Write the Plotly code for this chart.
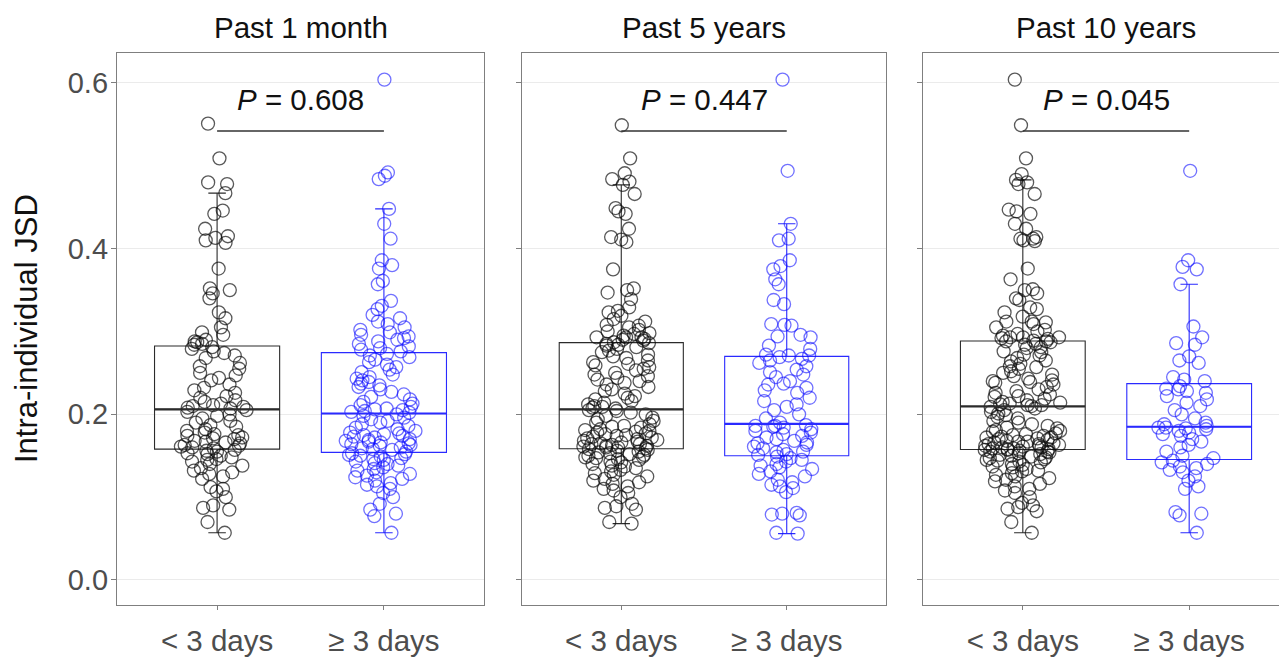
import numpy as np
import plotly.graph_objects as go
from plotly.subplots import make_subplots

panels = ["Past 1 month", "Past 5 years", "Past 10 years"]
groups = ["< 3 days", "≥ 3 days"]
p_values = ["0.608", "0.447", "0.045"]
sig_bar_y = 0.542
p_text_y = 0.580
y_ticks = [0.0, 0.2, 0.4, 0.6]
y_ticktext = ["0.0", "0.2", "0.4", "0.6"]

# ---- Past 1 month ----
p1_lt = [0.551, 0.509, 0.480, 0.478, 0.467, 0.446, 0.442, 0.424, 0.415, 0.413, 0.410, 0.407, 0.376, 0.352,
         0.350, 0.346, 0.340, 0.323, 0.316, 0.305, 0.299, 0.296, 0.290, 0.288, 0.287, 0.285, 0.284,
         0.281, 0.279, 0.276, 0.274, 0.271, 0.268, 0.262, 0.258, 0.255, 0.250, 0.247, 0.244, 0.241, 0.236,
         0.232, 0.229, 0.226, 0.222, 0.220, 0.217, 0.215, 0.213, 0.211, 0.210, 0.209, 0.208, 0.207,
         0.205, 0.203, 0.200, 0.198, 0.195, 0.192, 0.190, 0.187, 0.185, 0.182, 0.180, 0.178, 0.176, 0.175,
         0.174, 0.172, 0.171, 0.170, 0.168, 0.167, 0.166, 0.165, 0.163, 0.162, 0.161, 0.160, 0.159,
         0.157, 0.156, 0.155, 0.153, 0.152, 0.150, 0.148, 0.146, 0.145, 0.143, 0.140, 0.138, 0.135, 0.132,
         0.130, 0.128, 0.125, 0.122, 0.112, 0.110, 0.107, 0.100, 0.090, 0.087, 0.085, 0.070, 0.057]
p1_ge = [0.604, 0.492, 0.488, 0.484, 0.448, 0.430, 0.412, 0.386, 0.380, 0.376, 0.361, 0.357, 0.337, 0.331,
         0.327, 0.320, 0.316, 0.312, 0.309, 0.305, 0.302, 0.299, 0.296, 0.294, 0.292, 0.290, 0.288, 0.285,
         0.282, 0.280, 0.278, 0.276,
         0.273, 0.271, 0.269, 0.266, 0.263, 0.260, 0.257, 0.254, 0.251, 0.248, 0.245, 0.243, 0.241, 0.239,
         0.237, 0.235, 0.233, 0.230, 0.227, 0.224, 0.221, 0.218, 0.215, 0.213, 0.211, 0.209, 0.207, 0.206,
         0.205, 0.204, 0.203, 0.202,
         0.200, 0.198, 0.196, 0.194, 0.192, 0.190, 0.188, 0.186, 0.184, 0.182, 0.180, 0.178, 0.177, 0.176,
         0.175, 0.174, 0.173, 0.172, 0.170, 0.169, 0.168, 0.167, 0.166, 0.165, 0.164, 0.163, 0.162, 0.160,
         0.159, 0.158, 0.157, 0.155,
         0.153, 0.152, 0.151, 0.150, 0.149, 0.147, 0.146, 0.145, 0.143, 0.141, 0.140, 0.138, 0.136, 0.134,
         0.132, 0.130, 0.128, 0.126, 0.124, 0.122, 0.120, 0.117, 0.115, 0.113, 0.110, 0.105, 0.100, 0.092,
         0.085, 0.080, 0.077, 0.057]

# ---- Past 5 years ----
p2_lt = [0.549, 0.509, 0.491, 0.484, 0.481, 0.477, 0.466, 0.449, 0.445, 0.442, 0.424, 0.414, 0.411, 0.408,
         0.375, 0.352, 0.350, 0.347, 0.339, 0.329, 0.325, 0.323, 0.319, 0.315, 0.312, 0.308, 0.307, 0.305,
         0.302, 0.300, 0.298, 0.297, 0.295, 0.293, 0.293, 0.293, 0.291, 0.290, 0.289, 0.287,
         0.286, 0.285, 0.284, 0.283, 0.281, 0.279, 0.277, 0.275, 0.272, 0.270, 0.268, 0.265, 0.263, 0.261,
         0.259, 0.257, 0.255, 0.253, 0.250, 0.248, 0.246, 0.244, 0.242, 0.240, 0.238, 0.236, 0.233, 0.230,
         0.228, 0.225, 0.222, 0.220, 0.218, 0.216, 0.214, 0.212, 0.210, 0.209, 0.208, 0.207,
         0.205, 0.204, 0.202, 0.200, 0.198, 0.196, 0.194, 0.192, 0.190, 0.188, 0.186, 0.185, 0.184, 0.182,
         0.181, 0.180, 0.179, 0.178, 0.177, 0.176, 0.175, 0.174, 0.173, 0.172, 0.171, 0.170, 0.169, 0.168,
         0.167, 0.166, 0.165, 0.164, 0.164, 0.163, 0.162, 0.162, 0.161, 0.160, 0.160, 0.159,
         0.158, 0.157, 0.156, 0.155, 0.154, 0.153, 0.152, 0.151, 0.150, 0.149, 0.148, 0.147, 0.146, 0.145,
         0.143, 0.142, 0.140, 0.138, 0.137, 0.135, 0.133, 0.131, 0.129, 0.127, 0.125, 0.122, 0.120, 0.118,
         0.116, 0.113, 0.110, 0.108, 0.105, 0.100, 0.092, 0.089, 0.087, 0.085, 0.070, 0.068]
p2_ge = [0.604, 0.494, 0.430, 0.412, 0.410, 0.386, 0.379, 0.375, 0.363, 0.357, 0.338, 0.333, 0.309, 0.308,
         0.307, 0.296, 0.294, 0.293, 0.283, 0.279, 0.272, 0.271, 0.271,
         0.269, 0.267, 0.265, 0.262, 0.258, 0.254, 0.251, 0.248, 0.245, 0.240, 0.237, 0.236, 0.232, 0.229,
         0.226, 0.220, 0.216, 0.212, 0.209, 0.205, 0.200, 0.195, 0.190,
         0.187, 0.186, 0.186, 0.185, 0.184, 0.182, 0.180, 0.178, 0.176, 0.174, 0.172, 0.170, 0.168, 0.166,
         0.165, 0.163, 0.161, 0.159, 0.157, 0.155, 0.154, 0.152, 0.151,
         0.149, 0.147, 0.145, 0.143, 0.140, 0.138, 0.136, 0.134, 0.131, 0.128, 0.125, 0.121, 0.118, 0.115,
         0.113, 0.111, 0.106, 0.081, 0.080, 0.079, 0.078, 0.057, 0.056]

# ---- Past 10 years ----
p3_lt = [0.604, 0.549, 0.509, 0.490, 0.483, 0.480, 0.478, 0.466, 0.447, 0.445, 0.442, 0.430, 0.424, 0.414,
         0.412, 0.412, 0.410, 0.409, 0.376, 0.363, 0.351, 0.350, 0.346, 0.340, 0.338, 0.329, 0.327, 0.323,
         0.318, 0.312, 0.312, 0.311, 0.309, 0.305, 0.302, 0.300, 0.297, 0.295, 0.293, 0.293, 0.293, 0.292,
         0.291, 0.288,
         0.289, 0.288, 0.287, 0.285, 0.284, 0.281, 0.280, 0.276, 0.275, 0.272, 0.271, 0.268, 0.265, 0.264,
         0.261, 0.258, 0.257, 0.255, 0.252, 0.250, 0.248, 0.246, 0.243, 0.241, 0.240, 0.239, 0.238, 0.236,
         0.233, 0.230, 0.228, 0.226, 0.224, 0.222, 0.221, 0.219, 0.217, 0.215, 0.214, 0.213, 0.212, 0.211,
         0.211, 0.210,
         0.209, 0.207, 0.205, 0.203, 0.201, 0.199, 0.197, 0.195, 0.192, 0.190, 0.188, 0.186, 0.184, 0.183,
         0.181, 0.180, 0.179, 0.177, 0.176, 0.175, 0.174, 0.173, 0.172, 0.172, 0.171, 0.170, 0.169, 0.168,
         0.167, 0.167, 0.166, 0.165, 0.164, 0.164, 0.163, 0.162, 0.162, 0.161, 0.160, 0.160, 0.159, 0.159,
         0.158, 0.158,
         0.157, 0.157, 0.156, 0.155, 0.155, 0.154, 0.153, 0.152, 0.151, 0.150, 0.149, 0.148, 0.147, 0.146,
         0.145, 0.144, 0.143, 0.142, 0.140, 0.139, 0.137, 0.136, 0.134, 0.132, 0.131, 0.129, 0.127, 0.125,
         0.123, 0.121, 0.119, 0.116, 0.113, 0.110, 0.108, 0.105, 0.100, 0.093, 0.090, 0.088, 0.086, 0.083,
         0.070, 0.057]
p3_ge = [0.494, 0.386, 0.378, 0.375, 0.357, 0.306, 0.293, 0.286, 0.284, 0.270, 0.265, 0.262, 0.245, 0.242,
         0.240,
         0.234, 0.231, 0.230, 0.228, 0.226, 0.222, 0.218, 0.214, 0.210, 0.205, 0.200, 0.195, 0.190, 0.188,
         0.186,
         0.184, 0.184, 0.183, 0.182, 0.180, 0.178, 0.176, 0.174, 0.170, 0.167, 0.163, 0.160, 0.155, 0.150,
         0.147,
         0.144, 0.142, 0.140, 0.137, 0.135, 0.133, 0.130, 0.125, 0.120, 0.113, 0.110, 0.082, 0.080, 0.078,
         0.057]

data = [(p1_lt, p1_ge), (p2_lt, p2_ge), (p3_lt, p3_ge)]

# ---- styling ----
FONT = "Liberation Sans, Arial, sans-serif"
W, H = 1279, 657
ML, MT, MB = 117, 53, 52
box_colors = ["#2b2b2b", "#2a2aff"]
pt_colors = ["rgba(10,10,10,0.68)", "rgba(10,10,255,0.58)"]
box_w = 0.75
frame_col = "#7f7f7f"

plot_w = W - ML
dom = [(0, (484 - ML) / plot_w), ((522 - ML) / plot_w, (886 - ML) / plot_w), ((923 - ML) / plot_w, 1.0)]
panel_px = [367, 364, 356]
full_px = 366

fig = make_subplots(rows=1, cols=3, shared_yaxes=True)

for pi, (g_lt, g_ge) in enumerate(data):
    col = pi + 1
    for gi, vals in enumerate((g_lt, g_ge)):
        fig.add_trace(go.Box(
            y=vals, x=[gi] * len(vals), width=box_w,
            boxpoints="all", jitter=0.62, pointpos=0, quartilemethod="linear",
            marker=dict(symbol="circle-open", size=13, color=pt_colors[gi], line=dict(width=1.3)),
            line=dict(color=box_colors[gi], width=1.1),
            fillcolor="rgba(0,0,0,0)", whiskerwidth=0.14,
            showlegend=False, hoverinfo="y"), row=1, col=col)
        med = float(np.median(vals))
        fig.add_trace(go.Scatter(
            x=[gi - box_w / 2, gi + box_w / 2], y=[med, med], mode="lines",
            line=dict(color=box_colors[gi], width=2.2), showlegend=False, hoverinfo="skip"),
            row=1, col=col)
    # significance bar
    fig.add_trace(go.Scatter(x=[0, 1], y=[sig_bar_y, sig_bar_y], mode="lines",
                             line=dict(color="#333333", width=1.6), showlegend=False, hoverinfo="skip"),
                  row=1, col=col)
    xr = "x" if col == 1 else f"x{col}"
    yr = "y" if col == 1 else f"y{col}"
    fig.add_annotation(x=0.5, y=p_text_y, xref=xr, yref=yr, text=f"<i>P</i> = {p_values[pi]}",
                       showarrow=False, font=dict(family=FONT, size=29.5, color="#111111"))
    fig.add_annotation(x=0.5, y=1, xref=xr, yref="paper", yanchor="middle", yshift=26,
                       text=panels[pi], showarrow=False, font=dict(family=FONT, size=29.5, color="#111111"))

    x_hi = -0.6 + 2.2 * panel_px[pi] / full_px if pi == 2 else 1.6
    fig.update_xaxes(domain=list(dom[pi]), range=[-0.6, x_hi], tickvals=[0, 1], ticktext=groups,
                     showline=True, mirror=True, linecolor=frame_col, linewidth=1.3,
                     ticks="outside", ticklen=4, tickcolor=frame_col, ticklabelstandoff=5,
                     tickfont=dict(family=FONT, size=29.5, color="#4d4d4d"),
                     showgrid=False, zeroline=False, row=1, col=col)
    fig.update_yaxes(range=[-0.0302, 0.6362], tickvals=y_ticks, ticktext=y_ticktext,
                     showline=True, mirror=(pi < 2), linecolor=frame_col, linewidth=1.3,
                     ticks="outside", ticklen=5, tickcolor=frame_col, ticklabelstandoff=-3,
                     showticklabels=(pi == 0), tickfont=dict(family=FONT, size=29, color="#4d4d4d"),
                     showgrid=True, gridcolor="#ebebeb", gridwidth=1, zeroline=False, row=1, col=col)

fig.add_annotation(x=0, y=0.5, xref="paper", yref="paper", xshift=-91, xanchor="center", yanchor="middle",
                   text="Intra-individual JSD", textangle=-90, showarrow=False,
                   font=dict(family=FONT, size=31, color="#111111"))

fig.update_layout(width=W, height=H, margin=dict(l=ML, r=0, t=MT, b=MB, autoexpand=False),
                  plot_bgcolor="white", paper_bgcolor="white", boxmode="overlay",
                  font=dict(family=FONT))

fig.write_html("out.html")
